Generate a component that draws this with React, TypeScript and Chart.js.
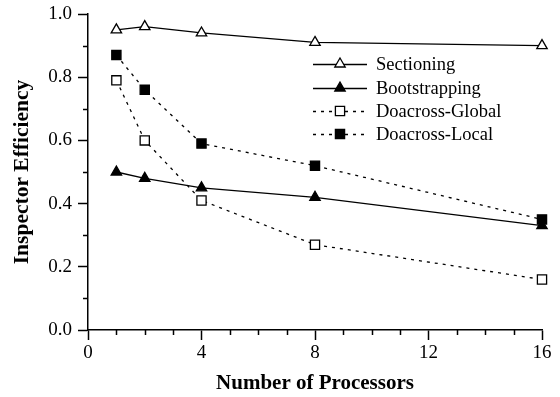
import React, { useEffect, useRef } from "react";
import { Chart, registerables } from "chart.js";

Chart.register(...registerables);

const processors = [1, 2, 4, 8, 16];
const sectioning = [0.95, 0.96, 0.94, 0.91, 0.9];
const bootstrapping = [0.5, 0.48, 0.45, 0.42, 0.33];
const doacrossGlobal = [0.79, 0.6, 0.41, 0.27, 0.16];
const doacrossLocal = [0.87, 0.76, 0.59, 0.52, 0.35];
const seriesNames = ["Sectioning", "Bootstrapping", "Doacross-Global", "Doacross-Local"];
const xTicks = [0, 4, 8, 12, 16];
const yTicks = [0, 0.2, 0.4, 0.6, 0.8, 1.0];

const FONT = "'Liberation Serif', 'Times New Roman', serif";

const toPoints = (ys: number[]) => processors.map((x, i) => ({ x, y: ys[i] }));

const minorTicks = {
  id: "minorTicks",
  afterDraw(chart: any) {
    const ctx = chart.ctx;
    const xs = chart.scales.x;
    const ys = chart.scales.y;
    const area = chart.chartArea;
    ctx.save();
    ctx.strokeStyle = "#000";
    ctx.lineWidth = 1.5;
    ctx.beginPath();
    for (let v = 1; v < 16; v++) {
      if (v % 4 === 0) continue;
      const px = Math.round(xs.getPixelForValue(v)) + 0.5;
      ctx.moveTo(px, area.bottom);
      ctx.lineTo(px, area.bottom + 5);
    }
    for (let k = 1; k < 10; k += 2) {
      const py = Math.round(ys.getPixelForValue(k / 10)) + 0.5;
      ctx.moveTo(area.left, py);
      ctx.lineTo(area.left - 5, py);
    }
    ctx.stroke();
    ctx.restore();
  },
};

function drawMarker(ctx: CanvasRenderingContext2D, style: string, filled: boolean, x: number, y: number, r: number) {
  ctx.beginPath();
  if (style === "triangle") {
    for (let i = 0; i < 3; i++) {
      const a = -Math.PI / 2 + (i * 2 * Math.PI) / 3;
      const px = x + r * Math.cos(a);
      const py = y + r * Math.sin(a);
      if (i === 0) ctx.moveTo(px, py);
      else ctx.lineTo(px, py);
    }
    ctx.closePath();
  } else {
    const s = Math.SQRT1_2 * r;
    ctx.rect(x - s, y - s, 2 * s, 2 * s);
  }
  ctx.fillStyle = filled ? "#000" : "#fff";
  ctx.fill();
  ctx.strokeStyle = "#000";
  ctx.lineWidth = 1.3;
  ctx.stroke();
}

const customLegend = {
  id: "customLegend",
  afterDraw(chart: any) {
    const ctx = chart.ctx;
    const x0 = 313;
    const x1 = 367;
    const rows = [64, 88, 111, 134];
    ctx.save();
    chart.data.datasets.forEach((ds: any, i: number) => {
      const y = rows[i];
      ctx.beginPath();
      ctx.setLineDash(ds.borderDash || []);
      ctx.strokeStyle = "#000";
      ctx.lineWidth = ds.borderWidth;
      ctx.moveTo(x0, y + 0.5);
      ctx.lineTo(x1, y + 0.5);
      ctx.stroke();
      ctx.setLineDash([]);
      drawMarker(ctx, ds.pointStyle, ds.pointBackgroundColor === "#000", (x0 + x1) / 2, y, ds.pointRadius);
      ctx.fillStyle = "#000";
      ctx.font = `18.5px ${FONT}`;
      ctx.textBaseline = "middle";
      ctx.textAlign = "left";
      ctx.fillText(ds.label, 376, y + 1);
    });
    ctx.restore();
  },
};

export default function App() {
  const ref = useRef<HTMLCanvasElement | null>(null);
  useEffect(() => {
    if (!ref.current) return;
    const mk = (label: string, data: number[], style: string, filled: boolean, dashed: boolean) => ({
      label,
      data: toPoints(data),
      borderColor: "#000",
      borderWidth: 1.3,
      borderDash: dashed ? [3, 5] : [],
      pointStyle: style,
      pointRadius: style === "triangle" ? 6 : 6.5,
      pointBorderWidth: 1.3,
      pointBackgroundColor: filled ? "#000" : "#fff",
      pointBorderColor: "#000",
      fill: false,
      tension: 0,
      clip: false as any,
    });
    const chart = new Chart(ref.current, {
      type: "line",
      data: {
        datasets: [
          mk(seriesNames[0], sectioning, "triangle", false, false),
          mk(seriesNames[1], bootstrapping, "triangle", true, false),
          mk(seriesNames[2], doacrossGlobal, "rect", false, true),
          mk(seriesNames[3], doacrossLocal, "rect", true, true),
        ] as any,
      },
      options: {
        animation: false,
        responsive: false,
        layout: { padding: { left: 0, top: 14, right: 18, bottom: 0 } },
        plugins: { legend: { display: false }, tooltip: { enabled: false } },
        scales: {
          x: {
            type: "linear",
            min: 0,
            max: 16,
            afterBuildTicks: (s: any) => {
              s.ticks = xTicks.map((v) => ({ value: v }));
            },
            afterFit: (s: any) => {
              s.height = 67;
              s.paddingLeft = 0;
              s.paddingRight = 0;
            },
            grid: { display: true, drawOnChartArea: false, drawTicks: true, tickLength: 10, tickColor: "#000", tickWidth: 1.5 },
            border: { display: true, color: "#000", width: 1.5 },
            ticks: { color: "#000", font: { family: FONT, size: 19 }, padding: 2, maxRotation: 0 },
            title: { display: true, text: "Number of Processors", color: "#000", font: { family: FONT, size: 21, weight: "bold" }, padding: { top: 4, bottom: 1 } },
          },
          y: {
            type: "linear",
            min: 0,
            max: 1,
            afterBuildTicks: (s: any) => {
              s.ticks = yTicks.map((v) => ({ value: v }));
            },
            afterFit: (s: any) => {
              s.width = 88;
              s.paddingTop = 0;
              s.paddingBottom = 0;
            },
            grid: { display: true, drawOnChartArea: false, drawTicks: true, tickLength: 10, tickColor: "#000", tickWidth: 1.5 },
            border: { display: true, color: "#000", width: 1.5 },
            ticks: { color: "#000", font: { family: FONT, size: 19 }, padding: 6, callback: (v: any) => Number(v).toFixed(1) },
            title: { display: true, text: "Inspector Efficiency", color: "#000", font: { family: FONT, size: 21.5, weight: "bold" }, padding: { top: 10, bottom: 0 } },
          },
        },
      },
      plugins: [minorTicks, customLegend],
    });
    return () => chart.destroy();
  }, []);
  return (
    <div style={{ position: "absolute", left: 0, top: 0, width: 560, height: 397, background: "#fff" }}>
      <canvas ref={ref} width={560} height={397} style={{ display: "block" }} />
    </div>
  );
}
